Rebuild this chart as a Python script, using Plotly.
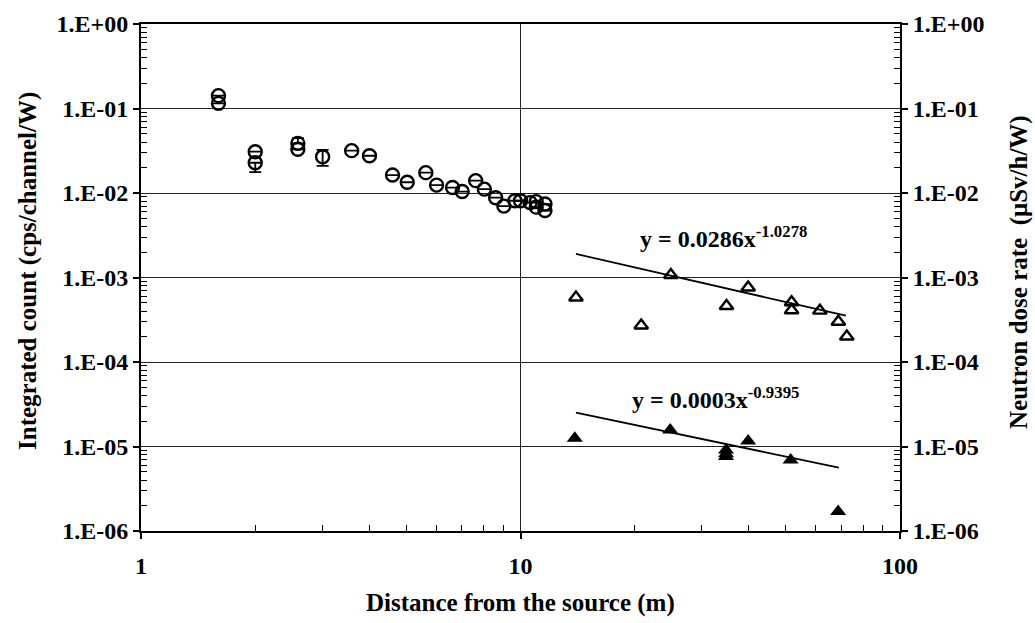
import plotly.graph_objects as go

# Integrated count measurements (circles, left axis)
count_dist = [1.6, 1.6, 2.0, 2.0, 2.59, 2.59, 3.01, 3.59, 4.0, 4.6, 5.03, 5.63, 6.01,
              6.62, 7.02, 7.62, 8.03, 8.6, 9.04, 9.67, 10.0, 10.6, 11.0, 11.0, 11.6, 11.6]
count_val = [0.142, 0.115, 0.0308, 0.0228, 0.0387, 0.0329, 0.0269, 0.0317, 0.0276,
             0.0163, 0.0134, 0.0174, 0.0124, 0.0116, 0.0104, 0.0140, 0.0111, 0.0088,
             0.0070, 0.0081, 0.0081, 0.0077, 0.0079, 0.0068, 0.0074, 0.0062]
# Error bars large enough to extend past the marker (None = hidden)
count_err_plus = [None, None, None, None, 0.006, None, 0.0054, None, None,
                  None, None, None, None, None, None, None, None, None,
                  None, None, None, None, None, None, None, None]
count_err_minus = [None, None, None, 0.0051, None, None, 0.006, None, None,
                   None, None, None, None, None, None, None, None, None,
                   None, None, None, None, None, None, None, None]

# Neutron dose rate, first series (open triangles, right axis)
dose_a_dist = [14.0, 20.8, 24.9, 34.9, 39.8, 51.8, 51.8, 61.5, 68.8, 72.4]
dose_a_val = [5.8e-4, 2.7e-4, 1.07e-3, 4.6e-4, 7.6e-4, 5.1e-4, 4.1e-4, 4.05e-4, 3.0e-4, 2.0e-4]

# Neutron dose rate, second series (filled triangles, right axis)
dose_b_dist = [13.9, 24.8, 34.8, 34.8, 34.8, 39.8, 51.5, 68.7]
dose_b_val = [1.25e-5, 1.57e-5, 9.1e-6, 8.2e-6, 7.6e-6, 1.16e-5, 6.9e-6, 1.7e-6]

# Power-law fits y = a * x^b
fit_a = (0.0286, -1.0278)
fit_b = (0.0003, -0.9395)
fit_a_span = [14.0, 72.0]
fit_b_span = [14.0, 69.0]

y_tickvals = [1e-6, 1e-5, 1e-4, 1e-3, 1e-2, 1e-1, 1]
y_ticktext = ["1.E-06", "1.E-05", "1.E-04", "1.E-03", "1.E-02", "1.E-01", "1.E+00"]
x_tickvals = [1, 10, 100]
x_ticktext = ["1", "10", "100"]

x_minor = [m * 10 ** d for d in range(2) for m in range(2, 10)]
y_minor = [m * 10.0 ** d for d in range(-6, 0) for m in range(2, 10)]

FONT = "Liberation Serif"
tick_font = dict(family=FONT, size=24, color="black", weight="bold")
title_font = dict(family=FONT, size=25, color="black", weight="bold")
eq_font = dict(family=FONT, size=24, color="black", weight="bold")

# Plot-area geometry in pixels
W, H = 1035, 623
ML, MR, MT, MB = 141, 135, 24, 92
PW, PH = W - ML - MR, H - MT - MB


def px_to_paper(px, py):
    return (px - ML) / PW, (H - MB - py) / PH


def fit_curve(coef, span, n=40):
    a, b = coef
    lo, hi = span
    xs = [lo * (hi / lo) ** (i / (n - 1)) for i in range(n)]
    return xs, [a * x ** b for x in xs]


fig = go.Figure()

fig.add_trace(go.Scatter(
    x=count_dist, y=count_val, mode="markers",
    marker=dict(symbol="circle-open", size=13, color="black", line=dict(width=2.4)),
    error_y=dict(type="data", array=count_err_plus, arrayminus=count_err_minus,
                 color="black", thickness=1.8, width=6),
    showlegend=False,
))

fx, fy = fit_curve(fit_a, fit_a_span)
fig.add_trace(go.Scatter(x=fx, y=fy, mode="lines", line=dict(color="black", width=1.8),
                         yaxis="y2", showlegend=False))
fx, fy = fit_curve(fit_b, fit_b_span)
fig.add_trace(go.Scatter(x=fx, y=fy, mode="lines", line=dict(color="black", width=1.8),
                         yaxis="y2", showlegend=False))

fig.add_trace(go.Scatter(
    x=dose_a_dist, y=dose_a_val, mode="markers", yaxis="y2",
    marker=dict(symbol="triangle-up-open", size=12, color="black", line=dict(width=2.4)),
    showlegend=False,
))
fig.add_trace(go.Scatter(
    x=dose_b_dist, y=dose_b_val, mode="markers", yaxis="y2",
    marker=dict(symbol="triangle-up", size=14, color="black"),
    showlegend=False,
))

axis_common = dict(
    type="log", showline=True, linecolor="black", linewidth=2,
    ticks="outside", ticklen=6, tickwidth=1.5, tickcolor="black",
    tickfont=tick_font, zeroline=False, automargin=False,
)
minor_y = dict(ticks="inside", ticklen=6, tickcolor="black", tickwidth=1,
               showgrid=False, tickmode="array", tickvals=y_minor)

xt_x, xt_y = px_to_paper(520, 603)
lt_x, lt_y = px_to_paper(28, 271)
rt_x, rt_y = px_to_paper(1019, 272)

fig.update_layout(
    width=W, height=H,
    margin=dict(l=ML, r=MR, t=MT, b=MB),
    paper_bgcolor="white", plot_bgcolor="white",
    xaxis=dict(
        **axis_common, range=[0, 2], mirror=True,
        tickvals=x_tickvals, ticktext=x_ticktext, ticklabelstandoff=6,
        showgrid=True, gridcolor="#222222", gridwidth=1,
        minor=dict(ticks="inside", ticklen=6, tickcolor="black", tickwidth=1,
                   showgrid=False, tickmode="array", tickvals=x_minor),
    ),
    yaxis=dict(
        **axis_common, range=[-6, 0],
        tickvals=y_tickvals, ticktext=y_ticktext,
        showgrid=True, gridcolor="#222222", gridwidth=1,
        minor=minor_y,
    ),
    yaxis2=dict(
        **axis_common, range=[-6, 0], overlaying="y", side="right",
        tickvals=y_tickvals, ticktext=y_ticktext, showgrid=False,
        minor=minor_y,
    ),
    annotations=[
        dict(x=1.536, y=-2.52, xref="x", yref="y",
             text="y = 0.0286x<sup>-1.0278</sup>", showarrow=False, font=eq_font),
        dict(x=1.513, y=-4.43, xref="x", yref="y",
             text="y = 0.0003x<sup>-0.9395</sup>", showarrow=False, font=eq_font),
        # axis titles
        dict(x=xt_x, y=xt_y, xref="paper", yref="paper",
             xanchor="center", yanchor="middle",
             text="Distance from the source (m)", showarrow=False, font=title_font),
        dict(x=lt_x, y=lt_y, xref="paper", yref="paper",
             xanchor="center", yanchor="middle", textangle=-90,
             text="Integrated count (cps/channel/W)", showarrow=False, font=title_font),
        dict(x=rt_x, y=rt_y, xref="paper", yref="paper",
             xanchor="center", yanchor="middle", textangle=-90,
             text="Neutron dose rate  (μSv/h/W)", showarrow=False, font=title_font),
    ],
)

fig.write_html("out.html")
